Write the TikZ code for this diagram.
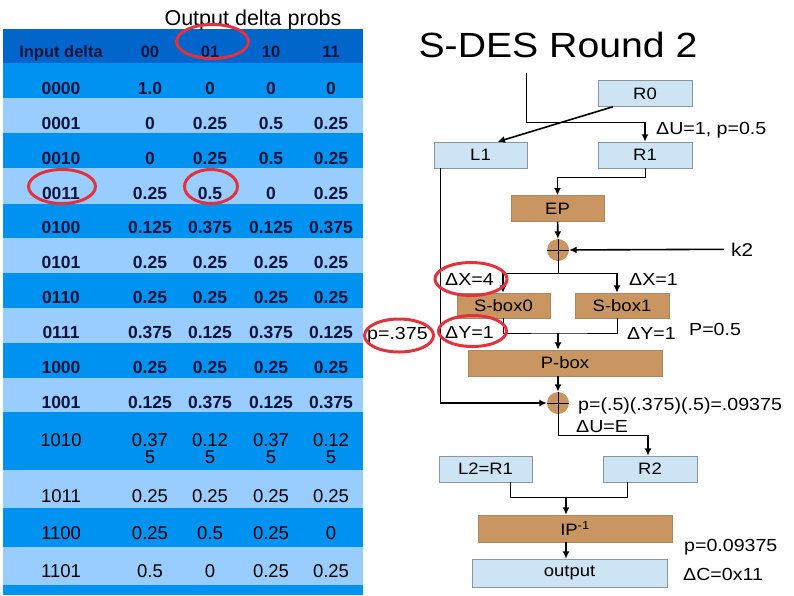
\documentclass[tikz,border=0pt]{standalone}
\usepackage{fontspec}
\setmainfont{Liberation Sans}
\newfontfamily\widesans[FakeStretch=1.12]{Liberation Sans}
\usepackage{xcolor}
\usetikzlibrary{arrows.meta, positioning, calc}

\definecolor{headblue}{RGB}{0,102,204}
\definecolor{midblue}{RGB}{0,146,240}
\definecolor{paleblue}{RGB}{153,204,255}
\definecolor{regfill}{RGB}{205,228,244}
\definecolor{regline}{RGB}{140,150,160}
\definecolor{opfill}{RGB}{201,150,98}
\definecolor{opline}{RGB}{170,135,100}
\definecolor{ringred}{RGB}{225,50,62}
\definecolor{navytext}{RGB}{16,20,60}

\newcommand{\fsz}[1]{\fontsize{#1}{#1}\selectfont}

\tikzstyle{register} = [rectangle, minimum width=93.5pt, minimum height=26pt, inner sep=0pt, text centered, draw=regline, fill=regfill, font=\widesans\fsz{16.5}]
\tikzstyle{operation} = [rectangle, minimum width=93.5pt, minimum height=26pt, inner sep=0pt, text centered, draw=opline, fill=opfill, font=\widesans\fsz{16.5}]
\tikzstyle{xor} = [circle, minimum size=22pt, inner sep=0pt, fill=opfill, path picture={\draw [line width=0.8pt] (path picture bounding box.north) -- (path picture bounding box.south) (path picture bounding box.west) -- (path picture bounding box.east);}]
\tikzstyle{wire} = [line width=1pt]
\tikzstyle{arrow} = [line width=1.6pt,-{Latex[length=7.5pt,width=7pt]}]
\tikzstyle{note} = [anchor=base west, inner sep=0pt, font=\widesans\fsz{17.5}]
\tikzstyle{headcell} = [anchor=base, inner sep=0pt, text=navytext, font=\bfseries\fsz{16.5}]
\tikzstyle{cell} = [anchor=base, inner sep=0pt, text=navytext, font=\bfseries\fsz{17.5}]
\tikzstyle{lowcell} = [anchor=base, inner sep=0pt, text=black, font=\fsz{18.5}]
\tikzstyle{ring} = [draw=ringred, line width=3pt]

\begin{document}
\begin{tikzpicture}[x=1pt, y=-1pt]
    \useasboundingbox (0,0) rectangle (794,595);

    % 表格底色
    \foreach \ya/\yb/\band in {29/63/headblue, 63/98/midblue, 98/133/paleblue, 133/168/midblue, 168/204/paleblue, 204/238/midblue, 238/273/paleblue, 273/308/midblue, 308/343/paleblue, 343/378/midblue, 378/412/paleblue, 412/470/midblue, 470/508/paleblue, 508/547/midblue, 547/585/paleblue, 585/595/midblue}
        \fill [\band] (3,\ya) rectangle (363,\yb);

    % 标题
    \node (probs) [anchor=base, inner sep=0pt, font=\fsz{21.5}] at (253,25) {Output delta probs};
    \node (title) [anchor=base, inner sep=0pt, font=\widesans\fsz{35}] at (558,57) {S-DES Round 2};

    % 表头
    \node (hd0) [headcell] at (61,57) {Input delta};
    \foreach \x/\t [count=\j] in {150/00, 210/01, 271/10, 331/11}
        \node (hd\j) [headcell] at (\x,57) {\t};

    % 表格内容
    \foreach \y/\code/\va/\vb/\vc/\vd [count=\i] in {94/0000/1.0/0/0/0, 129/0001/0/0.25/0.5/0.25, 164/0010/0/0.25/0.5/0.25, 199/0011/0.25/0.5/0/0.25, 233/0100/0.125/0.375/0.125/0.375, 268/0101/0.25/0.25/0.25/0.25, 303/0110/0.25/0.25/0.25/0.25, 338/0111/0.375/0.125/0.375/0.125, 373/1000/0.25/0.25/0.25/0.25, 408/1001/0.125/0.375/0.125/0.375}
    {
        \node (in\i) [cell] at (61,\y) {\code};
        \node (p\i-1) [cell] at (150,\y) {\va};
        \node (p\i-2) [cell] at (210,\y) {\vb};
        \node (p\i-3) [cell] at (271,\y) {\vc};
        \node (p\i-4) [cell] at (331,\y) {\vd};
    }
    \node (in11) [lowcell] at (61,446) {1010};
    \foreach \x/\t [count=\j] in {150/0.37, 210/0.12, 271/0.37, 331/0.12}
        \node (p11-\j) [lowcell, anchor=north, align=center, font=\fontsize{18.5}{17}\selectfont] at (\x,433) {\t\\5};
    \foreach \y/\code/\va/\vb/\vc/\vd [count=\i from 12] in {502/1011/0.25/0.25/0.25/0.25, 539/1100/0.25/0.5/0.25/0, 577/1101/0.5/0/0.25/0.25}
    {
        \node (in\i) [lowcell] at (61,\y) {\code};
        \node (p\i-1) [lowcell] at (150,\y) {\va};
        \node (p\i-2) [lowcell] at (210,\y) {\vb};
        \node (p\i-3) [lowcell] at (271,\y) {\vc};
        \node (p\i-4) [lowcell] at (331,\y) {\vd};
    }

    % 定义节点
    \node (r0) [register] at (645,93.5) {R0};
    \node (r1) [register, below of=r0, node distance=61.5pt] {R1};
    \node (l1) [register, left of=r1, node distance=164.5pt] {L1};
    \node (ep) [operation] at (557.5,208.5) {EP};
    \node (xora) [xor] at (558,250) {};
    \node (sbox0) [operation, minimum height=25pt] at (503.5,305.5) {S-box0};
    \node (sbox1) [operation, minimum height=25pt, right of=sbox0, node distance=118.5pt] {S-box1};
    \node (pbox) [operation, minimum width=194pt] at (565,363) {P-box};
    \node (xorb) [xor] at (558,403) {};
    \node (l2) [register] at (485.5,469) {L2=R1};
    \node (r2) [register, right of=l2, node distance=164.5pt] {R2};
    \node (ip) [operation, minimum width=194pt, minimum height=27pt] at (575,528.5) {IP\textsuperscript{-1}};
    \node (out) [register, minimum width=195pt, minimum height=28pt] at (569.5,573) {output};

    % 标注
    \node (du1) [note] at (656,134) {ΔU=1, p=0.5};
    \node (k2) [note, font=\widesans\fsz{18.5}] at (731,256) {k2};
    \node (dx4) [note] at (445,285) {ΔX=4};
    \node (dx1) [note] at (629,285) {ΔX=1};
    \node (p375) [note] at (367,339) {p=.375};
    \node (dy0) [note] at (445,338) {ΔY=1};
    \node (dy1) [note] at (627,339) {ΔY=1};
    \node (pfive) [note] at (689,335) {P=0.5};
    \node (pchain) [note] at (578,410) {p=(.5)(.375)(.5)=.09375};
    \node (due) [note] at (576,432) {ΔU=E};
    \node (pout) [note] at (684,551) {p=0.09375};
    \node (dc) [note] at (683,580) {ΔC=0x11};

    % 连接线
    \coordinate (feed) at (526,73);
    \coordinate (feedturn) at (645,122);
    \draw [wire] (feed) |- (feedturn);
    \draw [arrow] (feedturn) -- (r1);
    \draw [arrow] ([xshift=-32pt]r0.south) -- ([xshift=17pt]l1.north);
    \coordinate (epturn) at (557.5,177);
    \draw [wire] (r1.south) |- (epturn);
    \draw [arrow] (epturn) -- (ep);
    \draw [arrow] (ep) -- (xora);
    \draw [arrow] ([xshift=-7pt]k2.west) -- (xora);
    \coordinate (split) at (558,273);
    \coordinate (s0in) at (503,273);
    \coordinate (s1in) at (617,273);
    \draw [wire] (xora) -- (split);
    \draw [wire] (s0in) -- (s1in);
    \draw [arrow] (s0in) -- (s0in |- sbox0.north);
    \draw [arrow] (s1in) -- (s1in |- sbox1.north);
    \coordinate (merge) at (558,333);
    \draw [wire] (sbox0.south -| s0in) |- (merge) -| (sbox1.south -| s1in);
    \draw [arrow] (merge) -- (merge |- pbox.north);
    \draw [arrow] (pbox.south -| xorb) -- (xorb);
    \coordinate (lturn) at (440,403);
    \draw [wire] (l1.south -| lturn) -- (lturn);
    \draw [arrow] (lturn) -- (xorb);
    \coordinate (rturn) at (648,435);
    \draw [wire] (xorb) |- (rturn);
    \draw [arrow] (rturn) -- (rturn |- r2.north);
    \coordinate (join) at (566,497);
    \draw [wire] ([xshift=24.5pt]l2.south) |- (join) -| ([xshift=-23pt]r2.south);
    \draw [arrow] (join) -- (join |- ip.north);
    \draw [arrow] (ip.south -| join) -- (out.north -| join);

    % 红圈
    \draw [ring] (212.5,41.5) ellipse (36pt and 17pt);
    \draw [ring] (62,186.5) ellipse (33.5pt and 17pt);
    \draw [ring] (211,186.5) ellipse (26.5pt and 17pt);
    \draw [ring] (471,279) ellipse (36pt and 16.5pt);
    \draw [ring] (399,335.5) ellipse (34.5pt and 16.5pt);
    \draw [ring] (472.5,331) ellipse (34pt and 15.5pt);
\end{tikzpicture}
\end{document}
